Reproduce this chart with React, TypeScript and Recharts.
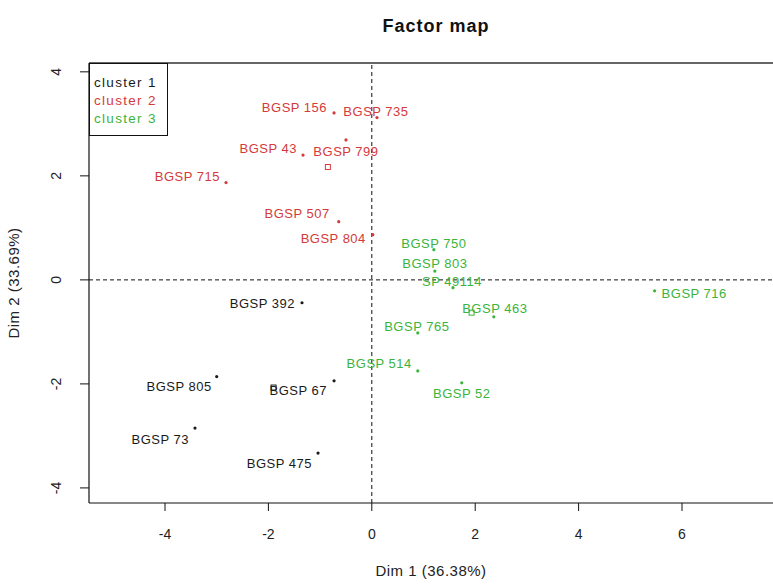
import React from "react";
import {
  ScatterChart,
  Scatter,
  XAxis,
  YAxis,
  ReferenceLine,
  Legend,
} from "recharts";

// ---- data (Dim 1, Dim 2 coordinates) ----
const cluster1Names = ["BGSP 392", "BGSP 805", "BGSP 67", "BGSP 73", "BGSP 475"];
const cluster1X = [-1.35, -3.0, -0.73, -3.42, -1.04];
const cluster1Y = [-0.44, -1.86, -1.94, -2.85, -3.33];

const cluster2Names = ["BGSP 156", "BGSP 735", "BGSP 799", "BGSP 43", "BGSP 715", "BGSP 507", "BGSP 804"];
const cluster2X = [-0.73, 0.1, -0.5, -1.33, -2.82, -0.64, 0.02];
const cluster2Y = [3.21, 3.12, 2.69, 2.4, 1.87, 1.12, 0.87];

const cluster3Names = ["BGSP 750", "BGSP 803", "SP 49114", "BGSP 716", "BGSP 463", "BGSP 765", "BGSP 514", "BGSP 52"];
const cluster3X = [1.2, 1.22, 1.57, 5.47, 2.36, 0.89, 0.89, 1.74];
const cluster3Y = [0.58, 0.17, -0.15, -0.21, -0.71, -1.02, -1.75, -1.98];

const centerNames = ["cluster 1", "cluster 2", "cluster 3"];
const centerX = [-1.9, -0.85, 1.93];
const centerY = [-2.07, 2.17, -0.63];

const clusterLabels = ["cluster 1", "cluster 2", "cluster 3"];
const xTicks = [-4, -2, 0, 2, 4, 6];
const yTicks = [-4, -2, 0, 2, 4];
const xDomain = [-5.47, 7.76];
const yDomain = [-4.29, 4.17];

// ---- styling / label placement (layout only) ----
const COLORS = ["#1a1a1a", "#d43a3a", "#3cb43c"];
const FONT = "'Liberation Sans', Arial, sans-serif";

type Place = { anchor: "start" | "middle" | "end"; dx: number; dy: number };
const labelPlace: Record<string, Place> = {
  "BGSP 156": { anchor: "end", dx: -7, dy: -5 },
  "BGSP 735": { anchor: "middle", dx: -1, dy: -6 },
  "BGSP 799": { anchor: "middle", dx: 0, dy: 12 },
  "BGSP 43": { anchor: "end", dx: -6, dy: -7 },
  "BGSP 715": { anchor: "end", dx: -6, dy: -6 },
  "BGSP 507": { anchor: "end", dx: -9, dy: -8 },
  "BGSP 804": { anchor: "end", dx: -7, dy: 4 },
  "BGSP 750": { anchor: "middle", dx: 0, dy: -6 },
  "BGSP 803": { anchor: "middle", dx: 0, dy: -8 },
  "SP 49114": { anchor: "middle", dx: -1, dy: -6 },
  "BGSP 716": { anchor: "start", dx: 7, dy: 3 },
  "BGSP 463": { anchor: "middle", dx: 1, dy: -8 },
  "BGSP 765": { anchor: "middle", dx: -1, dy: -6 },
  "BGSP 514": { anchor: "end", dx: -6, dy: -7 },
  "BGSP 52": { anchor: "middle", dx: 0, dy: 11 },
  "BGSP 392": { anchor: "end", dx: -7, dy: 1 },
  "BGSP 805": { anchor: "end", dx: -5, dy: 10 },
  "BGSP 67": { anchor: "end", dx: -7, dy: 10 },
  "BGSP 73": { anchor: "end", dx: -6, dy: 11 },
  "BGSP 475": { anchor: "end", dx: -6, dy: 10 },
};

const build = (names: string[], xs: number[], ys: number[]) =>
  names.map((name, i) => ({ name, x: xs[i], y: ys[i] }));

const cluster1 = build(cluster1Names, cluster1X, cluster1Y);
const cluster2 = build(cluster2Names, cluster2X, cluster2Y);
const cluster3 = build(cluster3Names, cluster3X, cluster3Y);
const centers = centerNames.map((name, i) => ({ name, x: centerX[i], y: centerY[i], idx: i }));

const makeShape = (color: string) => (props: any) => {
  const { cx, cy, payload } = props;
  if (cx == null || cy == null) return <g />;
  const p = labelPlace[payload.name] || { anchor: "middle", dx: 0, dy: -7 };
  return (
    <g>
      <circle cx={cx} cy={cy} r={1.6} fill={color} />
      <text
        x={cx + p.dx}
        y={cy + p.dy + 4.5}
        textAnchor={p.anchor}
        fontSize={13}
        letterSpacing={0.5}
        fontFamily={FONT}
        fill={color}
      >
        {payload.name}
      </text>
    </g>
  );
};

const centerShape = (props: any) => {
  const { cx, cy, payload } = props;
  if (cx == null || cy == null) return <g />;
  return (
    <rect
      x={cx - 2.5}
      y={cy - 2.5}
      width={5}
      height={5}
      fill="none"
      stroke={COLORS[payload.idx]}
      strokeWidth={1}
    />
  );
};

const XTick = (props: any) => {
  const { x, payload } = props;
  return (
    <text x={x} y={539} textAnchor="middle" fontSize={14} fontFamily={FONT} fill="#222">
      {payload.value}
    </text>
  );
};

const YTick = (props: any) => {
  const { y, payload } = props;
  return (
    <text
      x={56}
      y={y}
      transform={`rotate(-90, 56, ${y})`}
      textAnchor="middle"
      dominantBaseline="central"
      fontSize={14}
      fontFamily={FONT}
      fill="#222"
    >
      {payload.value}
    </text>
  );
};

const LegendBox = () => (
  <div
    style={{
      width: 79,
      height: 73,
      border: "1px solid #111",
      boxSizing: "border-box",
      background: "#fff",
      fontFamily: FONT,
      fontSize: 13.5,
      letterSpacing: 1.3,
      padding: "10px 0 0 4px",
      lineHeight: "18px",
    }}
  >
    {clusterLabels.map((l, i) => (
      <div key={l} style={{ color: COLORS[i], whiteSpace: "nowrap" }}>
        {l}
      </div>
    ))}
  </div>
);

export default function App() {
  return (
    <div style={{ position: "absolute", left: 0, top: 0, width: 773, height: 585, background: "#fff" }}>
      <div
        style={{
          position: "absolute",
          left: 336,
          width: 200,
          top: 16,
          textAlign: "center",
          fontFamily: FONT,
          fontWeight: "bold",
          fontSize: 18,
          letterSpacing: 1,
          color: "#111",
          zIndex: 2,
        }}
      >
        Factor map
      </div>
      <ScatterChart width={773} height={585} margin={{ top: 63, right: 0, bottom: 0, left: 0 }}>
        <XAxis
          type="number"
          dataKey="x"
          domain={xDomain}
          ticks={xTicks}
          allowDataOverflow
          height={82}
          tickSize={8}
          tick={<XTick />}
          axisLine={{ stroke: "#111", strokeWidth: 1.2 }}
          tickLine={{ stroke: "#111" }}
          label={{
            value: "Dim 1 (36.38%)",
            position: "insideBottom",
            offset: 9,
            style: { fontSize: 15, fontFamily: FONT, fill: "#222", letterSpacing: 0.5 },
          }}
        />
        <YAxis
          type="number"
          dataKey="y"
          domain={yDomain}
          ticks={yTicks}
          allowDataOverflow
          width={89}
          tickSize={9}
          tick={<YTick />}
          axisLine={{ stroke: "#111", strokeWidth: 1.2 }}
          tickLine={{ stroke: "#111" }}
          label={{
            value: "Dim 2 (33.69%)",
            angle: -90,
            position: "insideLeft",
            offset: 14,
            style: { fontSize: 15, fontFamily: FONT, fill: "#222", letterSpacing: 0.5, textAnchor: "middle" },
          }}
        />
        <ReferenceLine y={yDomain[1]} stroke="#333" strokeWidth={1.5} ifOverflow="extendDomain" />
        <ReferenceLine x={0} stroke="#111" strokeDasharray="4 3" />
        <ReferenceLine y={0} stroke="#111" strokeDasharray="4 3" />
        <Legend
          layout="vertical"
          align="center"
          verticalAlign="middle"
          content={<LegendBox />}
          wrapperStyle={{ top: 63, left: 89, width: 79, height: 73 }}
        />
        <Scatter name={clusterLabels[0]} data={cluster1} fill={COLORS[0]} shape={makeShape(COLORS[0])} isAnimationActive={false} />
        <Scatter name={clusterLabels[1]} data={cluster2} fill={COLORS[1]} shape={makeShape(COLORS[1])} isAnimationActive={false} />
        <Scatter name={clusterLabels[2]} data={cluster3} fill={COLORS[2]} shape={makeShape(COLORS[2])} isAnimationActive={false} />
        <Scatter name="centers" data={centers} legendType="none" shape={centerShape} isAnimationActive={false} />
      </ScatterChart>
    </div>
  );
}
